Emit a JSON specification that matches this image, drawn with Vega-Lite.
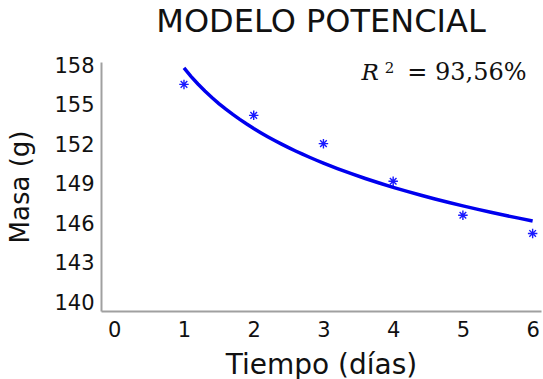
{
  "$schema": "https://vega.github.io/schema/vega-lite/v6.json",
  "autosize": {"type": "none"},
  "padding": {"left": 101, "top": 62, "right": 2, "bottom": 68},
  "width": 440,
  "height": 249,
  "background": "white",
  "title": {
    "text": "MODELO POTENCIAL",
    "font": "DejaVu Sans",
    "fontSize": 32,
    "fontWeight": "normal",
    "color": "#111111",
    "anchor": "middle",
    "offset": 16
  },
  "config": {
    "view": {"stroke": null},
    "axis": {
      "grid": false,
      "ticks": false,
      "domainColor": "#a0a0a0",
      "domainWidth": 2,
      "labelFont": "DejaVu Sans",
      "labelFontSize": 21,
      "labelColor": "#111111",
      "labelFlush": false,
      "labelOverlap": false,
      "titleFont": "DejaVu Sans",
      "titleFontWeight": "normal",
      "titleColor": "#111111"
    }
  },
  "data": {
    "values": [
      {"dia": 1, "masa": 156.63},
      {"dia": 2, "masa": 154.28},
      {"dia": 3, "masa": 152.13},
      {"dia": 4, "masa": 149.27},
      {"dia": 5, "masa": 146.69},
      {"dia": 6, "masa": 145.31}
    ]
  },
  "layer": [
    {
      "mark": {
        "type": "point",
        "shape": "M-1,0L1,0M0,-1L0,1M-0.7,-0.7L0.7,0.7M-0.7,0.7L0.7,-0.7",
        "filled": false,
        "stroke": "#1a1aff",
        "strokeWidth": 1.4,
        "size": 90,
        "opacity": 1
      },
      "encoding": {
        "x": {
          "field": "dia",
          "type": "quantitative",
          "scale": {"domain": [-0.19, 6.12], "nice": false, "zero": false},
          "axis": {
            "values": [0, 1, 2, 3, 4, 5, 6],
            "format": "d",
            "title": "Tiempo (días)",
            "titleFontSize": 28,
            "labelPadding": 8,
            "titlePadding": 11
          }
        },
        "y": {
          "field": "masa",
          "type": "quantitative",
          "scale": {"domain": [139.42, 158.33], "nice": false, "zero": false},
          "axis": {
            "values": [140, 143, 146, 149, 152, 155, 158],
            "format": "d",
            "title": "Masa (g)",
            "titleFontSize": 26,
            "labelPadding": 7,
            "titlePadding": 20
          }
        }
      }
    },
    {
      "transform": [
        {"regression": "masa", "on": "dia", "method": "pow", "extent": [1, 6]}
      ],
      "mark": {"type": "line", "color": "#0000ee", "strokeWidth": 3.5},
      "encoding": {
        "x": {"field": "dia", "type": "quantitative"},
        "y": {"field": "masa", "type": "quantitative"}
      }
    },
    {
      "data": {"values": [{"simbolo": "R"}]},
      "mark": {
        "type": "text",
        "font": "DejaVu Serif",
        "fontStyle": "italic",
        "fontSize": 23,
        "color": "#111111",
        "align": "left",
        "baseline": "alphabetic"
      },
      "encoding": {
        "x": {"datum": 3.547, "type": "quantitative"},
        "y": {"datum": 156.94, "type": "quantitative"},
        "text": {"field": "simbolo"}
      }
    },
    {
      "data": {"values": [{"exponente": "2"}]},
      "mark": {
        "type": "text",
        "font": "DejaVu Serif",
        "fontSize": 15,
        "color": "#111111",
        "align": "left",
        "baseline": "alphabetic"
      },
      "encoding": {
        "x": {"datum": 3.88, "type": "quantitative"},
        "y": {"datum": 157.47, "type": "quantitative"},
        "text": {"field": "exponente"}
      }
    },
    {
      "data": {"values": [{"valor": "= 93,56%"}]},
      "mark": {
        "type": "text",
        "font": "DejaVu Serif",
        "fontSize": 24,
        "color": "#111111",
        "align": "right",
        "baseline": "alphabetic"
      },
      "encoding": {
        "x": {"datum": 5.913, "type": "quantitative"},
        "y": {"datum": 156.94, "type": "quantitative"},
        "text": {"field": "valor"}
      }
    }
  ]
}
